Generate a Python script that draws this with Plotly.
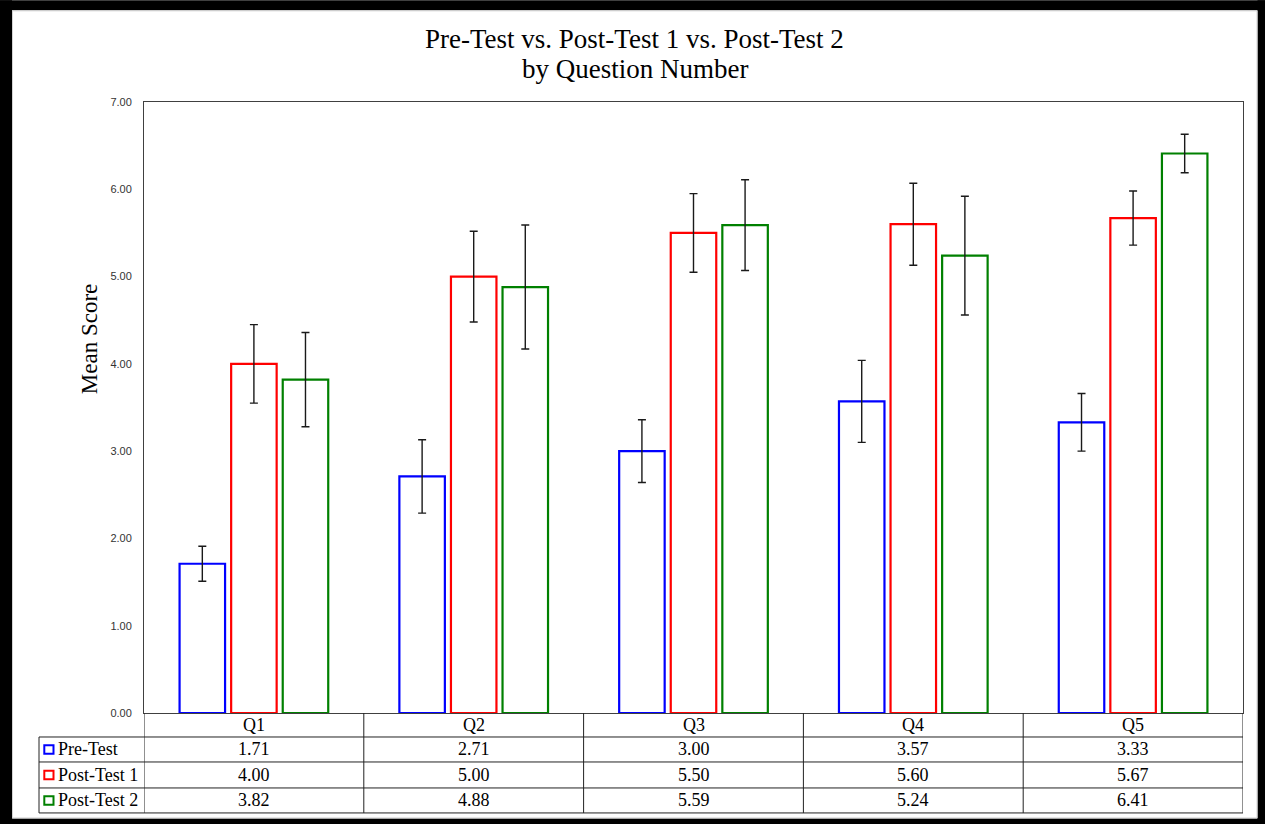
import plotly.graph_objects as go

# ---- data ----
questions = ["Q1", "Q2", "Q3", "Q4", "Q5"]
series_names = ["Pre-Test", "Post-Test 1", "Post-Test 2"]
pre_test = [1.71, 2.71, 3.00, 3.57, 3.33]
post_test_1 = [4.00, 5.00, 5.50, 5.60, 5.67]
post_test_2 = [3.82, 4.88, 5.59, 5.24, 6.41]
pre_test_err = [0.20, 0.42, 0.36, 0.47, 0.33]
post_test_1_err = [0.45, 0.52, 0.45, 0.47, 0.31]
post_test_2_err = [0.54, 0.71, 0.52, 0.68, 0.22]
y_ticks = [0, 1, 2, 3, 4, 5, 6, 7]

series_values = [pre_test, post_test_1, post_test_2]
series_errors = [pre_test_err, post_test_1_err, post_test_2_err]
series_colors = ["#0000FF", "#FF0000", "#008000"]

# ---- page geometry (pixels) ----
W, H = 1265, 824
PLOT_L, PLOT_R, PLOT_T, PLOT_B = 144, 1243, 101.7, 713
SERIF = "Liberation Serif, Times New Roman, serif"


def fx(px):
    """pixel x -> paper x"""
    return (px - PLOT_L) / (PLOT_R - PLOT_L)


def fy(py):
    """pixel y -> paper y"""
    return (PLOT_B - py) / (PLOT_B - PLOT_T)


fig = go.Figure()
for name, vals, errs, col in zip(series_names, series_values, series_errors, series_colors):
    fig.add_trace(go.Bar(
        name=name, x=questions, y=vals,
        marker=dict(color="white", line=dict(color=col, width=2.2)),
        error_y=dict(type="data", array=errs, visible=True,
                     color="#1a1a1a", thickness=1.4, width=4),
    ))

shapes = []
annotations = []

# outer black frame with thin light inner edge
for x0, y0, x1, y1 in [(0, 0, 12, H), (0, 0, W, 10), (1257.5, 0, W, H), (0, 818.5, W, H)]:
    shapes.append(dict(type="rect", xref="paper", yref="paper",
                       x0=fx(x0), x1=fx(x1), y0=fy(y0), y1=fy(y1),
                       fillcolor="black", line=dict(width=0), layer="above"))
shapes.append(dict(type="rect", xref="paper", yref="paper",
                   x0=fx(12.5), x1=fx(1257), y0=fy(10.5), y1=fy(818),
                   fillcolor="rgba(0,0,0,0)", line=dict(color="#d4d4d4", width=1)))

# data table grid
TABLE_LEFT = 39
row_lines = [737, 762, 788, 813]
row_centers = [749.5, 775, 800.5]
LINE = dict(color="#222222", width=1)
for ry in row_lines:
    shapes.append(dict(type="line", xref="paper", yref="paper",
                       x0=fx(TABLE_LEFT), x1=1, y0=fy(ry), y1=fy(ry), line=LINE))
for k in range(len(questions) + 1):
    shapes.append(dict(type="line", xref="x", yref="paper",
                       x0=k - 0.5, x1=k - 0.5, y0=0, y1=fy(813), line=LINE))
shapes.append(dict(type="line", xref="paper", yref="paper",
                   x0=fx(TABLE_LEFT), x1=fx(TABLE_LEFT), y0=fy(737), y1=fy(813), line=LINE))

# category header row
for j, q in enumerate(questions):
    annotations.append(dict(x=j, y=fy(725.5), xref="x", yref="paper", text=q,
                            showarrow=False, xanchor="center", yanchor="middle",
                            font=dict(family=SERIF, size=18, color="black")))

# series rows: legend key + values
for i, (name, vals, col) in enumerate(zip(series_names, series_values, series_colors)):
    cy = row_centers[i]
    shapes.append(dict(type="rect", xref="paper", yref="paper",
                       x0=fx(44.3), x1=fx(53.5), y0=fy(cy - 4.3), y1=fy(cy + 4.3),
                       fillcolor="white", line=dict(color=col, width=2)))
    annotations.append(dict(x=fx(56), y=fy(cy), xref="paper", yref="paper", text=name,
                            showarrow=False, xanchor="left", yanchor="middle",
                            font=dict(family=SERIF, size=18, color="black")))
    for j, v in enumerate(vals):
        annotations.append(dict(x=j, y=fy(cy), xref="x", yref="paper", text=f"{v:.2f}",
                                showarrow=False, xanchor="center", yanchor="middle",
                                font=dict(family=SERIF, size=18, color="black")))

# title (two lines)
for text, cy in [("Pre-Test vs. Post-Test 1 vs. Post-Test 2", 39), ("by Question Number", 69)]:
    annotations.append(dict(x=fx(634.5), y=fy(cy), xref="paper", yref="paper", text=text,
                            showarrow=False, xanchor="center", yanchor="middle",
                            font=dict(family=SERIF, size=27, color="black")))

# y-axis title
annotations.append(dict(x=fx(89), y=fy(339), xref="paper", yref="paper", text="Mean Score",
                        textangle=-90, showarrow=False, xanchor="center", yanchor="middle",
                        font=dict(family=SERIF, size=23, color="black")))

fig.update_layout(
    width=W, height=H,
    margin=dict(l=PLOT_L, r=W - PLOT_R, t=PLOT_T, b=H - PLOT_B, pad=0),
    paper_bgcolor="white", plot_bgcolor="white",
    barmode="group", bargap=0.296, bargroupgap=0.118,
    showlegend=False,
    shapes=shapes, annotations=annotations,
    xaxis=dict(range=[-0.5, len(questions) - 0.5], showticklabels=False, ticks="",
               showgrid=False, zeroline=False, showline=True, mirror=True,
               linecolor="#404040", linewidth=1, fixedrange=True),
    yaxis=dict(range=[0, 7], tickvals=y_ticks, tickformat=".2f", ticks="",
               showgrid=False, zeroline=False, showline=True, mirror=True,
               linecolor="#404040", linewidth=1, ticklabelstandoff=9,
               tickfont=dict(family="Liberation Sans, Arial, sans-serif", size=11, color="#333333"),
               fixedrange=True),
)

fig.write_html("out.html")
